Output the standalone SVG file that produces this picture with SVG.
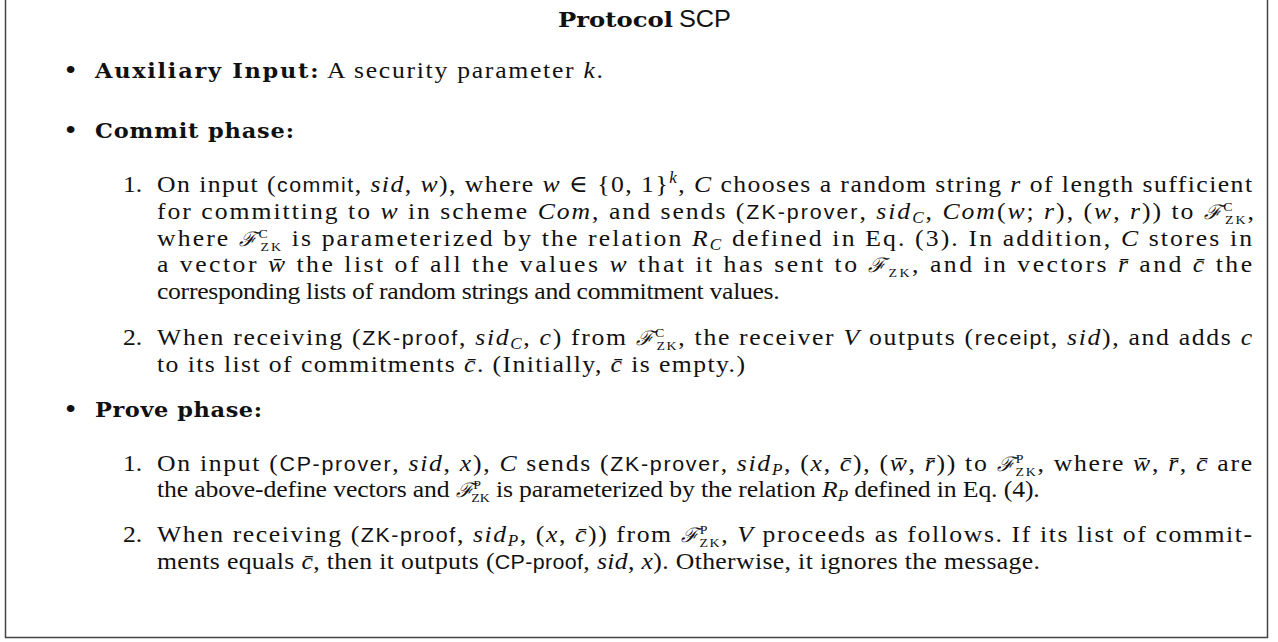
<svg xmlns="http://www.w3.org/2000/svg" width="1278" height="642" viewBox="0 0 1278 642">
<style>
text{font-family:"Liberation Serif","DejaVu Serif",serif;font-size:24px;fill:#111}
.i{font-style:italic}
.b{font-family:"DejaVu Serif",serif;font-weight:bold;font-size:21px}
.sf{font-family:"Liberation Sans","DejaVu Sans",sans-serif;font-size:20px}
.sft{font-family:"Liberation Sans","DejaVu Sans",sans-serif;font-size:24px}
.sm{font-size:13px}
.ms{font-size:16px;font-style:italic}
.cal{font-family:"DejaVu Serif",serif;font-style:italic;font-size:20px}
.bul{font-size:30px}
</style>
<rect width="1278" height="642" fill="#fff"/>
<path d="M5.5,-2 V637.5 H1267.5 V-2" fill="none" stroke="#444" stroke-width="1.5"/>

<g id="title">
<text x="558" y="27" class="b" textLength="115" lengthAdjust="spacingAndGlyphs">Protocol</text>
<text x="679" y="27" class="sft" textLength="52" lengthAdjust="spacingAndGlyphs">SCP</text>
</g>

<g id="body" transform="scale(1.07 1)">
<g id="aux">
<text x="60.75" y="80" class="bul">•</text>
<text x="88.79" y="78" textLength="474.8" lengthAdjust="spacing"><tspan class="b">Auxiliary Input:</tspan> A security parameter <tspan class="i">k</tspan>.</text>
</g>

<g id="commit">
<text x="60.75" y="140" class="bul">•</text>
<text x="88.79" y="138" textLength="186" lengthAdjust="spacing" class="b">Commit phase:</text>

<text x="114.95" y="192">1.</text>
<text x="146.73" y="192" textLength="1023.4" lengthAdjust="spacing">On input (<tspan class="sf">commit</tspan>, <tspan class="i">sid</tspan>, <tspan class="i">w</tspan>), where <tspan class="i">w</tspan> ∈ {0, 1}<tspan class="ms" dy="-9">k</tspan><tspan dy="9">, </tspan><tspan class="i">C</tspan> chooses a random string <tspan class="i">r</tspan> of length sufficient</text>
<text x="146.73" y="219" textLength="1025.2" lengthAdjust="spacing">for committing to <tspan class="i">w</tspan> in scheme <tspan class="i">Com</tspan>, and sends (<tspan class="sf">ZK-prover</tspan>, <tspan class="i">sid</tspan><tspan class="ms" dy="4">C</tspan><tspan dy="-4">, </tspan><tspan class="i">Com</tspan>(<tspan class="i">w</tspan>; <tspan class="i">r</tspan>), (<tspan class="i">w</tspan>, <tspan class="i">r</tspan>)) to <tspan class="cal">ℱ</tspan><tspan class="sm" dy="-8">C</tspan><tspan class="sm" dx="-9" dy="13">ZK</tspan><tspan dy="-5">,</tspan></text>
<text x="146.73" y="246" textLength="1023.4" lengthAdjust="spacing">where <tspan class="cal">ℱ</tspan><tspan class="sm" dy="-8">C</tspan><tspan class="sm" dx="-9" dy="13">ZK</tspan><tspan dy="-5"> is parameterized by the relation </tspan><tspan class="i">R</tspan><tspan class="ms" dy="4">C</tspan><tspan dy="-4"> defined in Eq. (3).  In addition, </tspan><tspan class="i">C</tspan> stores in</text>
<text x="146.73" y="272" textLength="1023.4" lengthAdjust="spacing">a vector <tspan class="i">w̄</tspan> the list of all the values <tspan class="i">w</tspan> that it has sent to <tspan class="cal">ℱ</tspan><tspan class="sm" dy="5">ZK</tspan><tspan dy="-5">, and in vectors </tspan><tspan class="i">r̄</tspan> and <tspan class="i">c̄</tspan> the</text>
<text x="146.73" y="299" textLength="582" lengthAdjust="spacing">corresponding lists of random strings and commitment values.</text>

<text x="114.95" y="345">2.</text>
<text x="146.73" y="345" textLength="1023.4" lengthAdjust="spacing">When receiving (<tspan class="sf">ZK-proof</tspan>, <tspan class="i">sid</tspan><tspan class="ms" dy="4">C</tspan><tspan dy="-4">, </tspan><tspan class="i">c</tspan>) from <tspan class="cal">ℱ</tspan><tspan class="sm" dy="-8">C</tspan><tspan class="sm" dx="-9" dy="13">ZK</tspan><tspan dy="-5">, the receiver </tspan><tspan class="i">V</tspan> outputs (<tspan class="sf">receipt</tspan>, <tspan class="i">sid</tspan>), and adds <tspan class="i">c</tspan></text>
<text x="146.73" y="372" textLength="549.5" lengthAdjust="spacing">to its list of commitments <tspan class="i">c̄</tspan>. (Initially, <tspan class="i">c̄</tspan> is empty.)</text>
</g>

<g id="prove">
<text x="60.75" y="419" class="bul">•</text>
<text x="88.79" y="417" textLength="156.1" lengthAdjust="spacing" class="b">Prove phase:</text>

<text x="114.95" y="471">1.</text>
<text x="146.73" y="471" textLength="1023.4" lengthAdjust="spacing">On input (<tspan class="sf">CP-prover</tspan>, <tspan class="i">sid</tspan>, <tspan class="i">x</tspan>), <tspan class="i">C</tspan> sends (<tspan class="sf">ZK-prover</tspan>, <tspan class="i">sid</tspan><tspan class="ms" dy="4">P</tspan><tspan dy="-4">, (</tspan><tspan class="i">x</tspan>, <tspan class="i">c̄</tspan>), (<tspan class="i">w̄</tspan>, <tspan class="i">r̄</tspan>)) to <tspan class="cal">ℱ</tspan><tspan class="sm" dy="-8">P</tspan><tspan class="sm" dx="-9" dy="13">ZK</tspan><tspan dy="-5">, where </tspan><tspan class="i">w̄</tspan>, <tspan class="i">r̄</tspan>, <tspan class="i">c̄</tspan> are</text>
<text x="146.73" y="497" textLength="825" lengthAdjust="spacing">the above-define vectors and <tspan class="cal">ℱ</tspan><tspan class="sm" dy="-8">P</tspan><tspan class="sm" dx="-9" dy="13">ZK</tspan><tspan dy="-5"> is parameterized by the relation </tspan><tspan class="i">R</tspan><tspan class="ms" dy="4">P</tspan><tspan dy="-4"> defined in Eq. (4).</tspan></text>

<text x="114.95" y="542">2.</text>
<text x="146.73" y="542" textLength="1023.4" lengthAdjust="spacing">When receiving (<tspan class="sf">ZK-proof</tspan>, <tspan class="i">sid</tspan><tspan class="ms" dy="4">P</tspan><tspan dy="-4">, (</tspan><tspan class="i">x</tspan>, <tspan class="i">c̄</tspan>)) from <tspan class="cal">ℱ</tspan><tspan class="sm" dy="-8">P</tspan><tspan class="sm" dx="-9" dy="13">ZK</tspan><tspan dy="-5">, </tspan><tspan class="i">V</tspan> proceeds as follows.  If its list of commit-</text>
<text x="146.73" y="569" textLength="825.2" lengthAdjust="spacing">ments equals <tspan class="i">c̄</tspan>, then it outputs (<tspan class="sf">CP-proof</tspan>, <tspan class="i">sid</tspan>, <tspan class="i">x</tspan>). Otherwise, it ignores the message.</text>
</g>
</g>
</svg>
